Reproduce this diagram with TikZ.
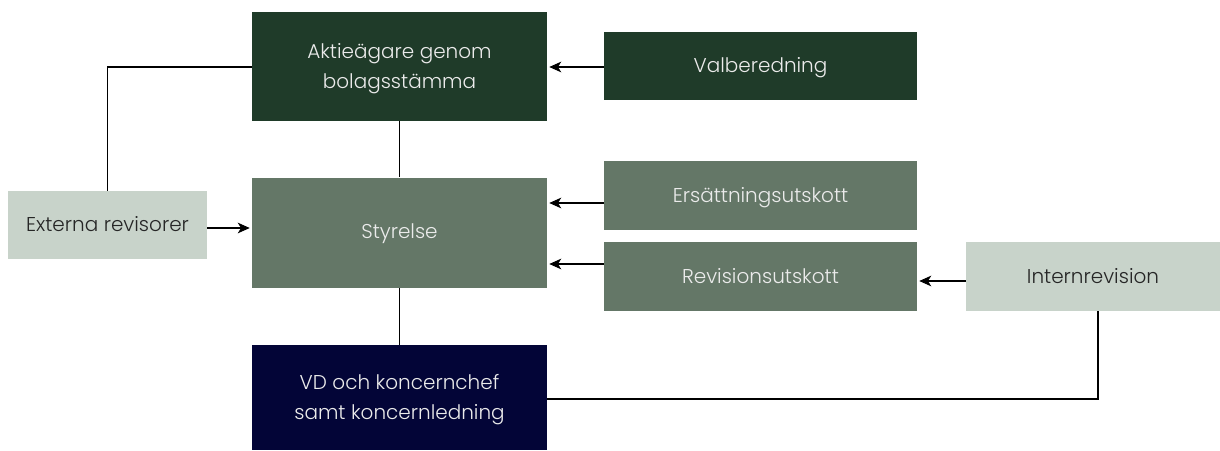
\documentclass[tikz,border=0pt]{standalone}
\usepackage{fontspec}
\setmainfont{Poppins}[UprightFont=* Light]
\usetikzlibrary{arrows.meta}
\definecolor{dkgreen}{HTML}{1F3B29}
\definecolor{midgreen}{HTML}{647767}
\definecolor{ltgreen}{HTML}{C8D3CA}
\definecolor{navy}{HTML}{030537}
\tikzset{
  box/.style={rectangle, inner sep=0pt, align=center, text depth=1.5pt, font=\fontsize{15}{22.5}\selectfont},
  darkbox/.style={box, fill=dkgreen, text=white!92!black},
  midbox/.style={box, fill=midgreen, text=white!92!black},
  lightbox/.style={box, fill=ltgreen, text=black!85},
  navybox/.style={box, fill=navy, text=white!92!black},
  conn/.style={draw=black, line width=0.8pt},
  arr/.style={conn, -{Stealth[length=9pt, width=8pt, inset=2.5pt]}, shorten >=1.5pt},
}
\begin{document}
\begin{tikzpicture}[x=0.75pt, y=-0.75pt]
\useasboundingbox (0,0) rectangle (1220,450);
\node[darkbox, minimum width=295*0.75pt, minimum height=109*0.75pt] (akt) at (399.5,66.5) {Aktieägare genom\\bolagsstämma};
\node[darkbox, minimum width=313*0.75pt, minimum height=68*0.75pt] (val) at (760.5,66) {Valberedning};
\node[midbox, minimum width=295*0.75pt, minimum height=110*0.75pt] (sty) at (399.5,232.5) {Styrelse};
\node[midbox, minimum width=313*0.75pt, minimum height=69*0.75pt] (ers) at (760.5,195.5) {Ersättningsutskott};
\node[midbox, minimum width=313*0.75pt, minimum height=69*0.75pt] (rev) at (760.5,276.5) {Revisionsutskott};
\node[lightbox, minimum width=254*0.75pt, minimum height=69*0.75pt] (int) at (1093,276.5) {Internrevision};
\node[lightbox, minimum width=199*0.75pt, minimum height=68*0.75pt] (ext) at (107.5,225) {Externa revisorer};
\node[navybox, minimum width=295*0.75pt, minimum height=105*0.75pt] (vd) at (399.5,397.5) {VD och koncernchef\\samt koncernledning};

\coordinate (c1) at (107.5,67);
\coordinate (c2) at (1098,399);

\draw[arr] (val.west |- 0,67) -- (akt.east |- 0,67);
\draw[arr] (ers.west |- 0,203) -- (sty.east |- 0,203);
\draw[arr] (rev.west |- 0,264) -- (sty.east |- 0,264);
\draw[arr] (ext.east |- 0,228) -- (sty.west |- 0,228);
\draw[arr] (int.west |- 0,281) -- (rev.east |- 0,281);
\draw[conn] (akt.south) -- (sty.north);
\draw[conn] (sty.south) -- (vd.north);
\draw[conn] (ext.north) -- (c1) -- (akt.west |- c1);
\draw[conn] (int.south -| c2) -- (c2) -- (vd.east |- c2);
\end{tikzpicture}
\end{document}
